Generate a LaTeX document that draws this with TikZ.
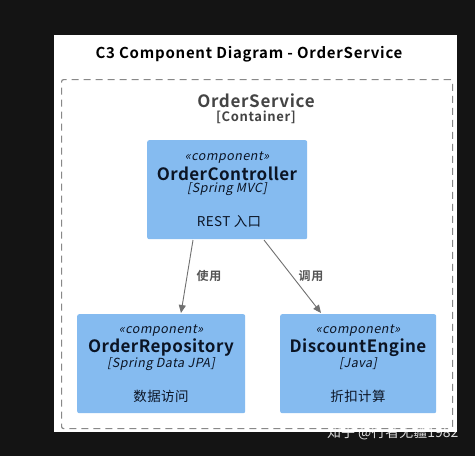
\documentclass[tikz,border=0pt]{standalone}
\usepackage{fontspec}
\setmainfont{Noto Sans CJK SC}[AutoFakeSlant=0.2, BoldFont={Noto Sans CJK SC Bold}]
\usetikzlibrary{arrows.meta}
\definecolor{bgdark}{HTML}{141414}
\definecolor{compblue}{HTML}{85BBF0}
\definecolor{compText}{HTML}{0B1424}
\definecolor{frameGray}{HTML}{888888}
\definecolor{arrowGray}{HTML}{707070}
\definecolor{labelGray}{HTML}{555555}
\definecolor{contGray}{HTML}{444444}
\newcommand{\ls}[1]{\addfontfeature{LetterSpace=#1}}
\tikzset{
  comp/.style={fill=compblue, draw=none, rounded corners=2pt, inner sep=0pt, anchor=north west},
  stereo/.style={font=\fontsize{12.5}{14}\selectfont\itshape\ls{4}, text=compText, anchor=center},
  cname/.style={font=\fontsize{17}{20}\selectfont\bfseries\ls{2.5}, text=compText, anchor=center},
  ctech/.style={font=\fontsize{12.5}{14}\selectfont\itshape\ls{4}, text=compText, anchor=center},
  cdesc/.style={font=\fontsize{13.5}{15}\selectfont\ls{3}, text=compText, anchor=center},
  rel/.style={draw=arrowGray, line width=0.9pt, -{Triangle[length=8pt,width=7pt]}},
  rlabel/.style={font=\fontsize{12}{13}\selectfont\bfseries\ls{8}, text=labelGray, anchor=center},
}
\begin{document}
\begin{tikzpicture}[x=1pt,y=-1pt]
\fill[bgdark] (0,0) rectangle (475,456);
\useasboundingbox (0,0) rectangle (475,456);
\node[fill=white, inner sep=0pt, minimum width=403pt, minimum height=397pt, anchor=north west] (panel) at (54,35) {};
\node[font=\fontsize{15}{18}\selectfont\bfseries\ls{5}, text=black] (title) at (249,54) {C3 Component Diagram - OrderService};
\node[draw=frameGray, dashed, dash pattern=on 7pt off 5pt, line width=1.2pt, rounded corners=2pt, minimum width=391pt, minimum height=349pt, anchor=north west] (frame) at (61,79) {};
\node[font=\fontsize{17}{20}\selectfont\bfseries\ls{4}, text=contGray] (cname) at (256,101) {OrderService};
\node[font=\fontsize{13}{14}\selectfont\bfseries\ls{5}, text=contGray] (ctype) at (256,117) {[Container]};
% components
\node[comp, minimum width=160pt, minimum height=99pt] (ctrl) at (147,140) {};
\node[stereo] at (227,158) {«component»};
\node[cname] at (227,174) {OrderController};
\node[ctech] at (227,189) {[Spring MVC]};
\node[cdesc] at (229,221) {REST 入口};
\node[comp, minimum width=168pt, minimum height=99pt] (repo) at (77,314) {};
\node[stereo] at (161,331) {«component»};
\node[cname] at (161,348) {OrderRepository};
\node[ctech] at (161,364) {[Spring Data JPA]};
\node[cdesc] at (161,396) {数据访问};
\node[comp, minimum width=156pt, minimum height=99pt] (disc) at (280,314) {};
\node[stereo] at (358,331) {«component»};
\node[cname] at (358,348) {DiscountEngine};
\node[ctech] at (358,364) {[Java]};
\node[cdesc] at (358,396) {折扣计算};
% relations
\coordinate (a1) at (193,240);
\coordinate (b1) at (181,313);
\coordinate (a2) at (264,240);
\coordinate (b2) at (321,313);
\draw[rel] (a1) -- (b1);
\draw[rel] (a2) -- (b2);
\node[rlabel] (l1) at (209,276) {使用};
\node[rlabel] (l2) at (311,276) {调用};
\node[font=\fontsize{14}{16}\selectfont, text=white, opacity=0.85, anchor=east] (wm) at (462,433) {知乎 @行者无疆1982};
\end{tikzpicture}
\end{document}
